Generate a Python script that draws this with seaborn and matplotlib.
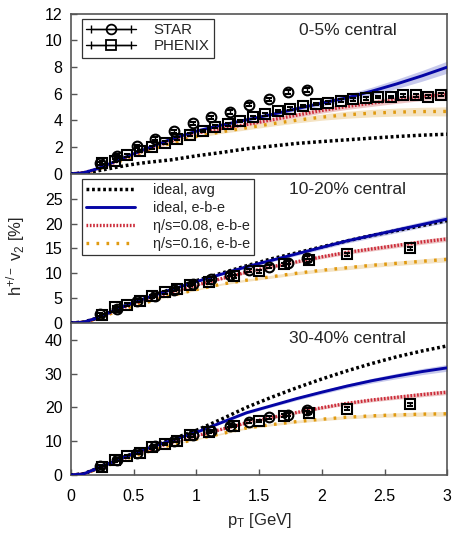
import numpy as np
import pandas as pd
import seaborn as sns
import matplotlib.pyplot as plt
from matplotlib.lines import Line2D
from matplotlib.legend_handler import HandlerLine2D

# pT grid for the hydro curves
pt_grid = [0, 0.1, 0.2, 0.3, 0.4, 0.5, 0.6, 0.8, 1.0, 1.2, 1.4, 1.6, 1.8, 2.0, 2.2, 2.4, 2.6, 2.8, 3.0]

# 0-5% central
c05_ideal_avg = [0, 0.05, 0.2, 0.38, 0.56, 0.72, 0.85, 1.05, 1.35, 1.6, 1.88, 2.08, 2.28, 2.42, 2.55, 2.68, 2.8, 2.9, 2.97]
c05_ideal_ebe = [0, 0.08, 0.35, 0.72, 1.12, 1.5, 1.88, 2.6, 3.2, 3.65, 4.05, 4.45, 4.88, 5.3, 5.7, 6.2, 6.75, 7.35, 8.0]
c05_eta008 = [0, 0.08, 0.33, 0.68, 1.05, 1.42, 1.8, 2.45, 3.05, 3.4, 3.7, 4.05, 4.4, 4.75, 5.05, 5.3, 5.55, 5.78, 5.95]
c05_eta016 = [0, 0.07, 0.3, 0.63, 0.98, 1.33, 1.7, 2.3, 2.8, 3.15, 3.45, 3.75, 4.02, 4.25, 4.43, 4.55, 4.63, 4.67, 4.68]
c05_band_ebe = [0, 0, 0, 0, 0, 0, 0.01, 0.03, 0.05, 0.08, 0.1, 0.13, 0.17, 0.2, 0.25, 0.3, 0.35, 0.4, 0.45]
c05_band_008 = [0, 0, 0, 0, 0, 0.02, 0.03, 0.05, 0.08, 0.1, 0.12, 0.15, 0.18, 0.2, 0.22, 0.24, 0.26, 0.28, 0.3]
c05_band_016 = [0, 0, 0, 0, 0, 0.02, 0.03, 0.06, 0.09, 0.12, 0.15, 0.18, 0.2, 0.23, 0.26, 0.28, 0.3, 0.32, 0.34]

# 10-20% central
c1020_ideal_avg = [0, 0.15, 0.9, 2.0, 3.1, 4.1, 5.0, 6.8, 8.5, 10.0, 11.5, 12.9, 14.1, 15.3, 16.5, 17.6, 18.6, 19.6, 20.6]
c1020_ideal_ebe = [0, 0.15, 0.9, 2.0, 3.1, 4.1, 5.0, 6.7, 8.3, 9.8, 11.3, 12.6, 13.9, 15.2, 16.5, 17.6, 18.7, 19.8, 20.9]
c1020_eta008 = [0, 0.13, 0.85, 1.9, 2.9, 3.8, 4.7, 6.2, 7.6, 8.9, 10.2, 11.3, 12.3, 13.3, 14.2, 14.9, 15.6, 16.3, 16.9]
c1020_eta016 = [0, 0.12, 0.75, 1.7, 2.6, 3.4, 4.1, 5.5, 6.7, 7.8, 8.6, 9.3, 10.0, 10.6, 11.1, 11.6, 12.0, 12.4, 12.8]
c1020_band_ebe = [0, 0, 0, 0, 0, 0.03, 0.05, 0.1, 0.15, 0.2, 0.25, 0.3, 0.35, 0.4, 0.45, 0.5, 0.55, 0.6, 0.7]
c1020_band_008 = [0, 0, 0, 0, 0, 0.03, 0.05, 0.1, 0.15, 0.2, 0.25, 0.3, 0.33, 0.36, 0.4, 0.42, 0.45, 0.48, 0.5]
c1020_band_016 = [0, 0, 0, 0, 0, 0.03, 0.05, 0.1, 0.15, 0.2, 0.25, 0.3, 0.33, 0.36, 0.4, 0.42, 0.45, 0.48, 0.5]

# 30-40% central
c3040_ideal_avg = [0, 0.3, 1.8, 3.3, 5.0, 6.4, 7.8, 10.5, 13.2, 16.5, 20.0, 23.0, 25.8, 28.4, 30.8, 33.0, 35.0, 36.7, 38.2]
c3040_ideal_ebe = [0, 0.3, 1.8, 3.3, 4.9, 6.3, 7.7, 10.2, 12.6, 15.5, 18.4, 20.5, 22.6, 24.5, 26.3, 27.9, 29.3, 30.6, 31.7]
c3040_eta008 = [0, 0.28, 1.7, 3.1, 4.6, 5.9, 7.1, 9.6, 11.6, 13.5, 15.4, 17.0, 18.5, 19.9, 21.2, 22.2, 23.0, 23.8, 24.5]
c3040_eta016 = [0, 0.26, 1.6, 2.9, 4.3, 5.5, 6.7, 8.9, 10.6, 12.2, 13.9, 14.9, 15.8, 16.5, 17.1, 17.5, 17.8, 18.0, 18.1]
c3040_band_ebe = [0, 0, 0, 0, 0, 0.05, 0.08, 0.15, 0.2, 0.3, 0.35, 0.4, 0.5, 0.55, 0.6, 0.7, 0.8, 0.9, 1.0]
c3040_band_008 = [0, 0, 0, 0, 0, 0.05, 0.08, 0.12, 0.18, 0.25, 0.3, 0.35, 0.4, 0.45, 0.5, 0.55, 0.6, 0.65, 0.7]
c3040_band_016 = [0, 0, 0, 0, 0, 0.05, 0.08, 0.12, 0.18, 0.25, 0.3, 0.35, 0.4, 0.45, 0.5, 0.55, 0.6, 0.65, 0.7]

# STAR data
star_pt = [0.23, 0.37, 0.53, 0.67, 0.82, 0.97, 1.12, 1.27, 1.42, 1.58, 1.73, 1.88]
star_05 = [0.78, 1.33, 2.05, 2.63, 3.2, 3.8, 4.23, 4.63, 5.18, 5.58, 6.13, 6.28]
star_1020 = [1.7, 2.8, 4.5, 5.5, 6.7, 7.9, 8.9, 9.7, 10.6, 11.3, 12.1, 13.1]
star_3040 = [2.6, 4.5, 6.6, 8.5, 10.1, 11.7, 13.0, 14.6, 15.8, 17.1, 17.8, 19.3]

# PHENIX data
phenix_pt_05 = [0.25, 0.35, 0.45, 0.55, 0.65, 0.75, 0.85, 0.95, 1.05, 1.15, 1.25, 1.35, 1.45, 1.55,
                1.65, 1.75, 1.85, 1.95, 2.05, 2.15, 2.25, 2.35, 2.45, 2.55, 2.65, 2.75, 2.85, 2.95]
phenix_05 = [0.83, 0.98, 1.38, 1.7, 1.98, 2.33, 2.63, 2.93, 3.2, 3.53, 3.7, 3.95, 4.23, 4.45,
             4.7, 4.88, 5.08, 5.23, 5.33, 5.48, 5.58, 5.65, 5.75, 5.75, 5.88, 5.88, 5.78, 5.93]
phenix_pt = [0.25, 0.35, 0.45, 0.55, 0.65, 0.75, 0.85, 0.95, 1.1, 1.3, 1.5, 1.7, 1.9, 2.2, 2.7]
phenix_1020 = [1.55, 3.2, 3.7, 4.5, 5.4, 6.2, 6.9, 7.7, 8.2, 9.4, 10.4, 11.8, 12.6, 13.8, 15.0]
phenix_3040 = [2.3, 4.3, 5.5, 6.6, 8.2, 9.2, 10.1, 11.7, 12.7, 14.5, 16.0, 17.5, 18.3, 19.6, 20.9]

centralities = ['0-5% central', '10-20% central', '30-40% central']
x_ticks = [0, 0.5, 1, 1.5, 2, 2.5, 3]
y_limits = [12, 30, 45]
y_steps = [2, 5, 10]
star_err = [0.12, 0.3, 0.4]
phenix_err = [0.1, 0.3, 0.4]

panels = [
    dict(avg=c05_ideal_avg, ebe=c05_ideal_ebe, e08=c05_eta008, e16=c05_eta016,
         b_ebe=c05_band_ebe, b08=c05_band_008, b16=c05_band_016,
         star=star_05, ph_pt=phenix_pt_05, ph=phenix_05),
    dict(avg=c1020_ideal_avg, ebe=c1020_ideal_ebe, e08=c1020_eta008, e16=c1020_eta016,
         b_ebe=c1020_band_ebe, b08=c1020_band_008, b16=c1020_band_016,
         star=star_1020, ph_pt=phenix_pt, ph=phenix_1020),
    dict(avg=c3040_ideal_avg, ebe=c3040_ideal_ebe, e08=c3040_eta008, e16=c3040_eta016,
         b_ebe=c3040_band_ebe, b08=c3040_band_008, b16=c3040_band_016,
         star=star_3040, ph_pt=phenix_pt, ph=phenix_3040),
]

sns.set_theme(style='white')
plt.rcParams['font.family'] = ['Liberation Sans', 'DejaVu Sans']
plt.rcParams['mathtext.fontset'] = 'custom'
plt.rcParams['mathtext.rm'] = 'Liberation Sans'
plt.rcParams['mathtext.it'] = 'Liberation Sans'

blue = '#0505a5'
red = '#cc2a38'
orange = '#e09a10'
style_avg = dict(color='black', lw=2.5, linestyle=(0, (0.8, 0.8)))
style_ebe = dict(color=blue, lw=2.1, linestyle='-')
style_08 = dict(color=red, lw=2.4, linestyle=(0, (0.5, 0.5)))
style_16 = dict(color=orange, lw=2.4, linestyle=(0, (0.8, 2.2)))

fig = plt.figure(figsize=(4.63, 5.51), dpi=100)
gs = fig.add_gridspec(3, 1, height_ratios=[160, 149, 152], hspace=0,
                      left=0.153, right=0.966, top=0.975, bottom=0.138)
axes = [fig.add_subplot(gs[i]) for i in range(3)]

for i, (ax, p) in enumerate(zip(axes, panels)):
    df = pd.DataFrame({'pt': pt_grid, 'avg': p['avg'], 'ebe': p['ebe'], 'e08': p['e08'], 'e16': p['e16']})
    for key, band, col in [('ebe', 'b_ebe', '#b9bce8'), ('e08', 'b08', '#eab8b8'), ('e16', 'b16', '#f2dcb4')]:
        lo = np.array(p[key]) - np.array(p[band])
        hi = np.array(p[key]) + np.array(p[band])
        ax.fill_between(pt_grid, lo, hi, color=col, lw=0, alpha=0.8, zorder=1)
    sns.lineplot(data=df, x='pt', y='e16', ax=ax, zorder=2, **style_16)
    sns.lineplot(data=df, x='pt', y='e08', ax=ax, zorder=3, **style_08)
    sns.lineplot(data=df, x='pt', y='avg', ax=ax, zorder=4, **style_avg)
    sns.lineplot(data=df, x='pt', y='ebe', ax=ax, zorder=4, **style_ebe)
    ax.errorbar(star_pt, p['star'], yerr=star_err[i], fmt='o', ms=7, mfc='none', mec='black',
                mew=1.5, ecolor='black', elinewidth=1, capsize=2, zorder=6)
    ax.errorbar(p['ph_pt'], p['ph'], yerr=phenix_err[i], fmt='s', ms=7, mfc='none', mec='black',
                mew=1.5, ecolor='black', elinewidth=1, capsize=2, zorder=6)

    ax.set_xlim(0, 3)
    ax.set_ylim(0, y_limits[i])
    yt = np.arange(0, y_limits[i] + 0.1, y_steps[i])
    if i > 0:
        yt = yt[yt < y_limits[i] - 0.1]
    ax.set_yticks(yt)
    ax.set_yticklabels([f'{v:g}' for v in yt])
    ax.set_xticks(x_ticks)
    ax.set_xticklabels([f'{v:g}' for v in x_ticks])
    ax.set_xlabel('')
    ax.set_ylabel('')
    ax.tick_params(axis='both', direction='in', length=4, width=1, color='#555555',
                   labelsize=11.5, labelcolor='black')
    ax.tick_params(axis='y', left=True, right=False, pad=6)
    ax.tick_params(axis='x', bottom=(i == 2), top=False, labelbottom=(i == 2), pad=10)
    for s in ax.spines.values():
        s.set_color('#555555')
        s.set_linewidth(1.2)
    ax.text(0.735, 0.895, centralities[i], transform=ax.transAxes, ha='center', va='center', fontsize=12.5)

axes[2].set_xlabel('p$_{\\mathrm{T}}$ [GeV]', fontsize=12, labelpad=5)
fig.text(0.033, 0.535, 'h$^{+/-}$ v$_2$ [%]', rotation=90, ha='center', va='center', fontsize=12)

# legend: data
star_h = Line2D([], [], color='black', lw=1, marker='o', ms=7, mfc='none', mec='black', mew=1.3)
phen_h = Line2D([], [], color='black', lw=1, marker='s', ms=7, mfc='none', mec='black', mew=1.3)
cap1 = Line2D([], [], color='black', lw=1, marker='|', ms=6, mew=1)
cap2 = Line2D([], [], color='black', lw=1, marker='|', ms=6, mew=1)
leg1 = axes[0].legend([(cap1, star_h), (cap2, phen_h)], ['STAR', 'PHENIX'],
                      handler_map={cap1: HandlerLine2D(numpoints=2), cap2: HandlerLine2D(numpoints=2)},
                      loc='upper left', bbox_to_anchor=(0.029, 0.969), borderaxespad=0,
                      frameon=True, fancybox=False, edgecolor='black', fontsize=10.8,
                      handlelength=3.3, handletextpad=1.2, labelspacing=0.15, borderpad=0.3,
                      numpoints=1)
leg1.get_frame().set_linewidth(0.9)

# legend: curves
th = [Line2D([], [], **style_avg), Line2D([], [], **style_ebe), Line2D([], [], **style_08), Line2D([], [], **style_16)]
leg2 = axes[1].legend(th, ['ideal, avg', 'ideal, e-b-e', '\u03b7/s=0.08, e-b-e', '\u03b7/s=0.16, e-b-e'],
                      loc='upper left', bbox_to_anchor=(0.029, 0.966), borderaxespad=0,
                      frameon=True, fancybox=False, edgecolor='black', fontsize=10.4,
                      handlelength=3.4, handletextpad=1.2, labelspacing=0.27, borderpad=0.3)
leg2.get_frame().set_linewidth(0.9)

fig.savefig('out.png', dpi=100)
